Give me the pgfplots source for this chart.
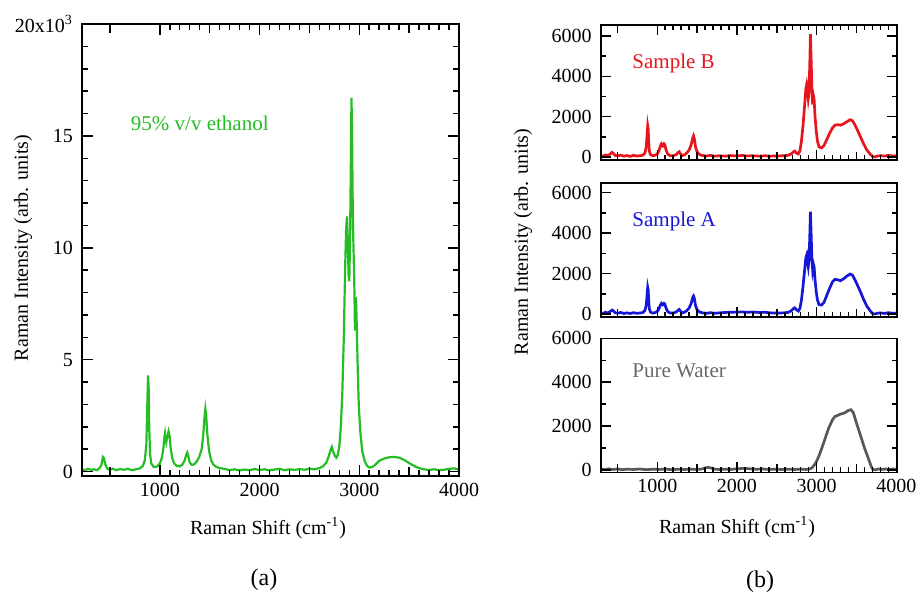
\documentclass[border=0pt]{standalone}
\usepackage{pgfplots}
\pgfplotsset{compat=1.18}
\usepackage{fontspec}
\setmainfont{Liberation Serif}
\definecolor{cgreen}{RGB}{36,190,36}
\definecolor{cred}{RGB}{230,22,28}
\definecolor{cblue}{RGB}{22,22,215}
\definecolor{cgrey}{RGB}{88,88,88}
\definecolor{tgrey}{RGB}{105,105,105}
\pgfplotsset{
  SA/.style={axis on top, axis line style={line width=0.8pt},
    xtick style={draw=black, line width=0.75pt},
    ytick style={draw=black, line width=0.75pt},
    tick align=inside, major tick length=5.5pt, minor tick length=3pt},
  SN/.style={/pgf/number format/assume math mode=true, /pgf/number format/1000 sep={}, scaled ticks=false},
  B/.style={scale only axis, tick label style={font=\fontsize{10}{12}\selectfont}, yticklabel style={xshift=-1pt}},
  RX/.style={xmin=290, xmax=4005, xtick={1000,2000,3000,4000}, minor x tick num=9,
    ytick={0,2000,4000,6000}, minor y tick num=1,
    extra x ticks={500,1500,2500,3500}, extra x tick labels={}, extra x tick style={major tick length=4pt},
    major tick length=5pt, minor tick length=2.5pt}
}
\begin{document}
\begin{tikzpicture}
\useasboundingbox (0,0) rectangle (460pt,-297.5pt);
% ---------------- (a) ----------------
\begin{axis}[B,SA,SN, width=188.5pt, height=226pt,
  extra x ticks={500,1500,2500,3500}, extra x tick labels={}, extra x tick style={major tick length=4.5pt},
  yticklabels={0,5,10,15,{20x10\textsuperscript{3}}},
  minor x tick num=9, minor y tick num=4,
  xmin=220, xmax=4000, ymin=-200, ymax=20000, xtick={1000,2000,3000,4000}, ytick={0,5000,10000,15000,20000},
  at={(41pt,-12pt)}, anchor=north west]
\addplot[cgreen, line width=1.1pt] coordinates {
(220,100)(250,60)(280,120)(310,80)(340,100)(370,60)(395,150)(415,300)(430,650)(440,600)(455,300)(475,120)(500,80)(530,130)(560,60)(600,110)(640,80)(680,120)(720,60)(760,100)(800,140)(830,250)(850,500)(865,1200)(875,3000)(882,4300)(888,3800)(894,2000)(902,800)(915,350)(940,200)(970,220)(1000,350)(1020,600)(1035,1000)(1045,1500)(1052,1700)(1058,1450)(1065,1300)(1075,1550)(1088,1800)(1098,1600)(1110,1000)(1125,600)(1145,350)(1170,250)(1200,230)(1225,300)(1250,500)(1265,750)(1275,850)(1285,700)(1300,400)(1320,300)(1345,320)(1370,450)(1395,650)(1420,1000)(1435,1600)(1448,2400)(1457,2800)(1465,2500)(1478,1600)(1495,900)(1515,500)(1540,300)(1570,200)(1600,150)(1650,120)(1700,60)(1750,100)(1800,50)(1850,90)(1900,60)(1950,110)(2000,70)(2050,100)(2100,50)(2150,90)(2200,120)(2250,60)(2300,100)(2350,70)(2400,110)(2450,80)(2500,120)(2550,100)(2600,150)(2640,250)(2670,400)(2695,700)(2715,1000)(2725,1100)(2738,900)(2755,700)(2770,620)(2785,750)(2800,1100)(2815,2000)(2830,3500)(2845,6000)(2858,9000)(2868,10800)(2877,11400)(2884,10500)(2893,8800)(2900,8500)(2908,10500)(2915,13500)(2922,16700)(2928,15000)(2935,11500)(2942,10000)(2950,8500)(2957,6300)(2963,7800)(2968,7600)(2975,6500)(2985,4500)(2995,3000)(3010,1800)(3030,900)(3055,450)(3080,250)(3100,180)(3130,200)(3160,300)(3200,480)(3250,580)(3300,640)(3350,650)(3400,620)(3450,520)(3500,380)(3550,250)(3600,150)(3650,100)(3700,70)(3750,100)(3800,60)(3850,80)(3900,120)(3950,140)(4000,90)};
\node[anchor=west, text=cgreen, font=\fontsize{10.5}{12}\selectfont] at (axis cs:640,15550) {95\% v/v ethanol};
\end{axis}
% ---------------- (b) top ----------------
\begin{axis}[B,SA,SN,RX, width=148pt, height=67.5pt, ymin=-150, ymax=6550, xticklabels={},
  at={(300.35pt,-12.5pt)}, anchor=north west]
\addplot[cred, line width=1.35pt] coordinates {
(290,80)(320,40)(350,100)(380,60)(410,150)(433,230)(450,180)(470,80)(500,50)(540,90)(580,40)(620,70)(660,30)(700,80)(740,50)(780,60)(820,90)(845,200)(862,500)(872,1100)(880,1550)(886,1400)(892,800)(900,300)(915,120)(940,60)(970,80)(1000,150)(1020,300)(1040,550)(1052,650)(1060,600)(1070,550)(1085,650)(1095,600)(1110,350)(1130,150)(1160,60)(1200,60)(1240,120)(1262,230)(1275,260)(1288,180)(1310,70)(1340,100)(1370,200)(1400,350)(1425,600)(1445,950)(1455,1050)(1465,900)(1480,500)(1500,250)(1530,120)(1570,70)(1620,50)(1670,80)(1720,40)(1780,60)(1850,40)(1920,70)(2000,50)(2060,80)(2120,50)(2200,60)(2280,40)(2350,60)(2420,40)(2500,50)(2580,60)(2640,80)(2680,150)(2710,260)(2725,290)(2745,200)(2770,150)(2790,300)(2810,800)(2830,1600)(2850,2600)(2865,3400)(2875,3600)(2885,3300)(2895,2900)(2905,3200)(2915,4800)(2922,6100)(2930,5000)(2940,3500)(2950,2600)(2960,3050)(2968,2900)(2980,2000)(2995,1300)(3010,800)(3030,500)(3060,450)(3090,550)(3120,800)(3160,1150)(3200,1450)(3230,1580)(3270,1600)(3300,1580)(3340,1650)(3380,1750)(3420,1850)(3450,1800)(3480,1600)(3510,1350)(3550,1000)(3590,650)(3630,350)(3670,150)(3700,30)(3730,0)(3760,40)(3800,70)(3850,40)(3900,80)(3950,50)(4005,60)};
\node[anchor=west, text=cred, font=\fontsize{10.5}{12}\selectfont] at (axis cs:600,4650) {Sample B};
\end{axis}
% ---------------- (b) middle ----------------
\begin{axis}[B,SA,SN,RX, width=148pt, height=66.85pt, ymin=-130, ymax=6480, xticklabels={}, xtick pos=lower,
  at={(300.35pt,-91.5pt)}, anchor=north west]
\addplot[cblue, line width=1.35pt] coordinates {
(290,60)(320,30)(350,90)(380,50)(410,130)(433,200)(450,160)(470,70)(500,40)(540,80)(580,30)(620,60)(660,30)(700,70)(740,40)(780,50)(820,80)(845,180)(862,450)(872,950)(880,1320)(886,1200)(892,700)(900,260)(915,100)(940,50)(970,70)(1000,130)(1020,250)(1040,450)(1052,530)(1060,490)(1070,460)(1085,530)(1095,500)(1110,300)(1130,130)(1160,50)(1200,50)(1240,110)(1262,200)(1275,230)(1288,160)(1310,60)(1340,90)(1370,170)(1400,300)(1425,520)(1445,820)(1455,890)(1465,780)(1480,430)(1500,210)(1530,100)(1570,60)(1620,40)(1670,70)(1720,40)(1780,60)(1850,80)(1920,90)(2000,100)(2060,110)(2120,90)(2200,100)(2280,80)(2350,90)(2420,60)(2500,50)(2580,60)(2640,80)(2680,160)(2710,280)(2725,310)(2745,220)(2770,150)(2790,280)(2810,700)(2830,1400)(2850,2200)(2865,2800)(2875,2920)(2885,2600)(2895,2340)(2905,2700)(2915,4000)(2922,5060)(2930,4100)(2940,2800)(2950,2200)(2960,2470)(2968,2350)(2980,1700)(2995,1100)(3010,700)(3030,470)(3060,445)(3090,560)(3120,850)(3160,1250)(3200,1600)(3230,1720)(3270,1690)(3300,1650)(3340,1750)(3380,1880)(3420,1980)(3450,1920)(3480,1700)(3510,1450)(3550,1100)(3590,720)(3630,400)(3670,170)(3700,30)(3730,0)(3760,40)(3800,60)(3850,30)(3900,70)(3950,40)(4005,50)};
\node[anchor=west, text=cblue, font=\fontsize{10.5}{12}\selectfont] at (axis cs:600,4560) {Sample A};
\end{axis}
% ---------------- (b) bottom ----------------
\begin{axis}[B,SA,SN,RX, width=148pt, height=67pt, ymin=-100, ymax=6000, xtick pos=lower,
  at={(300.35pt,-169.15pt)}, anchor=north west]
\addplot[cgrey, line width=1.35pt] coordinates {
(290,50)(340,20)(390,60)(440,30)(500,50)(560,20)(620,40)(700,30)(780,50)(860,20)(940,40)(1020,30)(1100,50)(1180,20)(1260,40)(1340,30)(1420,40)(1500,30)(1560,50)(1600,90)(1640,130)(1680,90)(1720,40)(1780,30)(1850,40)(1920,30)(2000,60)(2080,80)(2160,60)(2240,40)(2320,50)(2400,30)(2480,40)(2560,30)(2640,40)(2720,30)(2800,40)(2870,30)(2920,60)(2950,130)(2990,330)(3030,650)(3070,1050)(3100,1370)(3150,1900)(3200,2300)(3230,2440)(3270,2500)(3300,2550)(3350,2600)(3400,2720)(3430,2750)(3460,2620)(3500,2150)(3550,1580)(3600,1020)(3650,520)(3690,120)(3710,10)(3740,20)(3780,50)(3820,30)(3870,50)(3920,30)(3960,50)(4005,40)};
\node[anchor=west, text=tgrey, font=\fontsize{10.5}{12}\selectfont] at (axis cs:600,4500) {Pure Water};
\end{axis}
% ---------------- labels ----------------
\node[rotate=90, font=\fontsize{10}{12}\selectfont] at (11.5pt,-124pt) {Raman Intensity (arb. units)};
\node[rotate=90, font=\fontsize{10}{12}\selectfont] at (261.5pt,-121pt) {Raman Intensity (arb. units)};
\node[font=\fontsize{10}{12}\selectfont] at (134pt,-264pt) {Raman Shift (cm\textsuperscript{-1})};
\node[font=\fontsize{10}{12}\selectfont] at (368.5pt,-263.5pt) {Raman Shift (cm\textsuperscript{-1})};
\node[font=\fontsize{12}{14}\selectfont] at (132pt,-290pt) {(a)};
\node[font=\fontsize{12}{14}\selectfont] at (380pt,-290.8pt) {(b)};
\end{tikzpicture}
\end{document}
